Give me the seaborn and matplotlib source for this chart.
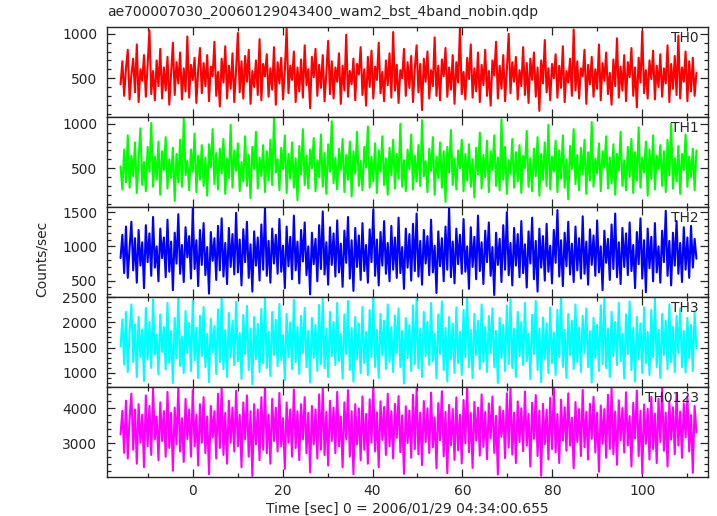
import numpy as np
import matplotlib
matplotlib.use("Agg")
import matplotlib.pyplot as plt
import pandas as pd
import seaborn as sns
from matplotlib.ticker import MultipleLocator

# light curve values (counts/sec), one panel per band
th0 = [430, 690, 300, 610, 820, 260, 540, 720, 340, 880, 230, 600, 470, 760, 290, 650, 1040, 320, 580, 250,
       700, 410, 830, 270, 620, 360, 740, 200, 560, 900, 310, 680, 440, 790, 260, 610, 350, 970, 280, 650,
       480, 730, 220, 590, 840, 330, 670, 410, 760, 240, 630, 520, 910, 300, 570, 180, 720, 450, 860, 270,
       640, 380, 780, 230, 600, 1010, 340, 690, 270, 750, 460, 820, 210, 580, 400, 700, 310, 940, 250, 660,
       520, 770, 290, 610, 370, 850, 200, 680, 440, 730, 260, 590, 1060, 330, 640, 480, 800, 230, 620, 350,
       710, 280, 870, 420, 600, 160, 740, 510, 830, 300, 650, 390, 760, 240, 560, 920, 320, 690, 270, 620,
       460, 780, 210, 640, 360, 990, 290, 580, 430, 720, 250, 660, 540, 850, 310, 600, 190, 740, 400, 810,
       270, 630, 480, 900, 330, 570, 240, 700, 420, 780, 280, 1020, 360, 650, 220, 590, 500, 830, 300, 680,
       390, 750, 230, 610, 870, 340, 660, 140, 720, 460, 800, 270, 590, 410, 960, 300, 640, 250, 710, 520,
       840, 290, 620, 370, 760, 210, 680, 450, 1070, 320, 570, 260, 730, 490, 880, 280, 610, 350, 790, 230,
       650, 420, 820, 300, 580, 190, 700, 530, 910, 270, 640, 380, 760, 240, 600, 1000, 330, 680, 460, 740,
       260, 590, 410, 850, 310, 670, 220, 720, 480, 790, 290, 620, 130, 700, 440, 930, 340, 610, 250, 660,
       500, 770, 280, 640, 390, 860, 230, 580, 450, 720, 300, 1050, 360, 690, 270, 610, 520, 820, 210, 650,
       430, 740, 290, 600, 380, 880, 250, 670, 470, 790, 320, 560, 200, 710, 410, 950, 280, 630, 360, 760,
       240, 680, 510, 840, 300, 620, 170, 730, 450, 1030, 330, 590, 270, 700, 490, 810, 260, 640, 400, 770,
       290, 610, 440, 870, 230, 660, 380, 750, 310, 980, 270, 620, 460, 800, 240, 690, 350, 730, 300, 560]
th1 = [520, 260, 710, 340, 870, 280, 640, 410, 790, 220, 600, 950, 310, 570, 240, 740, 460, 1010, 290, 630,
       370, 800, 200, 690, 480, 850, 270, 600, 390, 730, 130, 660, 340, 820, 290, 1060, 420, 580, 250, 710,
       460, 890, 230, 640, 370, 760, 300, 620, 190, 770, 510, 940, 320, 670, 260, 720, 440, 830, 210, 610,
       390, 990, 280, 700, 470, 780, 240, 570, 350, 860, 300, 650, 160, 740, 490, 910, 270, 620, 410, 760,
       230, 690, 360, 820, 310, 1070, 450, 600, 250, 730, 490, 870, 220, 660, 380, 790, 280, 610, 140, 750,
       430, 940, 310, 640, 270, 710, 500, 840, 240, 590, 400, 880, 290, 670, 210, 770, 460, 1030, 330, 620,
       260, 720, 480, 830, 230, 650, 370, 800, 180, 690, 440, 910, 300, 580, 250, 740, 510, 970, 280, 630,
       350, 780, 220, 700, 460, 860, 310, 610, 200, 730, 420, 820, 270, 660, 380, 1000, 290, 590, 240, 710,
       490, 880, 260, 640, 350, 760, 300, 1040, 410, 580, 230, 720, 470, 850, 200, 630, 390, 790, 280, 690,
       120, 740, 450, 930, 310, 610, 260, 700, 500, 820, 240, 660, 360, 770, 290, 600, 170, 730, 430, 900,
       270, 650, 400, 810, 230, 690, 480, 870, 300, 620, 250, 1050, 370, 740, 210, 590, 440, 830, 280, 680,
       350, 760, 220, 640, 500, 920, 290, 610, 240, 720, 410, 850, 190, 660, 370, 790, 300, 990, 260, 630,
       460, 810, 230, 700, 380, 870, 280, 600, 150, 750, 490, 940, 320, 650, 250, 730, 430, 820, 210, 680,
       360, 1020, 290, 610, 440, 780, 240, 690, 510, 860, 270, 620, 330, 770, 200, 660, 470, 910, 300, 590,
       250, 740, 400, 830, 220, 680, 360, 960, 280, 620, 450, 800, 190, 710, 380, 870, 260, 640, 490, 760,
       300, 690, 230, 820, 420, 1000, 270, 610, 350, 750, 210, 660, 480, 880, 290, 630, 400, 720, 250, 700]
th2 = [830, 1170, 610, 1290, 540, 980, 1360, 650, 1120, 470, 1240, 720, 1060, 390, 1310, 770, 1190, 570, 1430, 690,
       1000, 490, 1260, 830, 1130, 550, 1390, 630, 1070, 360, 1200, 750, 1470, 600, 1020, 480, 1280, 840, 1150, 530,
       1550, 670, 1090, 420, 1240, 730, 1340, 580, 990, 310, 1210, 790, 1120, 510, 1300, 650, 1410, 560, 1050, 450,
       1270, 700, 1180, 590, 1490, 620, 1100, 430, 1250, 770, 1360, 540, 1030, 340, 1220, 720, 1130, 500, 1320, 660,
       1560, 570, 1080, 470, 1260, 750, 1170, 600, 1400, 630, 1010, 390, 1290, 710, 1140, 520, 1450, 650, 1070, 460,
       1240, 780, 1350, 580, 1000, 300, 1200, 740, 1110, 490, 1310, 670, 1510, 590, 1060, 440, 1280, 730, 1190, 560,
       1380, 620, 1040, 410, 1230, 760, 1430, 530, 1090, 350, 1270, 700, 1160, 510, 1340, 640, 1020, 470, 1250, 770,
       1540, 570, 1100, 430, 1210, 720, 1370, 600, 1050, 490, 1300, 660, 1130, 540, 1420, 610, 990, 380, 1260, 690,
       1180, 500, 1330, 640, 1480, 560, 1080, 440, 1240, 750, 1150, 580, 1390, 620, 1010, 320, 1220, 710, 1120, 490,
       1290, 660, 1570, 550, 1070, 460, 1260, 740, 1170, 600, 1400, 630, 1000, 380, 1280, 700, 1140, 520, 1450, 640,
       1060, 450, 1230, 770, 1350, 570, 990, 290, 1200, 730, 1110, 480, 1310, 660, 1500, 580, 1050, 430, 1270, 720,
       1180, 550, 1370, 610, 1030, 400, 1220, 750, 1420, 520, 1080, 340, 1260, 690, 1150, 500, 1330, 630, 1010, 460,
       1240, 760, 1530, 560, 1090, 420, 1200, 710, 1360, 590, 1040, 480, 1290, 650, 1120, 530, 1440, 600, 1070, 440,
       1250, 730, 1160, 570, 1380, 620, 1000, 360, 1230, 760, 1110, 510, 1320, 670, 1480, 550, 1060, 450, 1270, 700,
       1190, 580, 1350, 640, 1020, 390, 1210, 740, 1410, 530, 1090, 330, 1260, 680, 1140, 490, 1340, 620, 1000, 470,
       1230, 770, 1520, 570, 1080, 430, 1200, 720, 1370, 600, 1050, 480, 1280, 660, 1130, 540, 1300, 690, 1110, 820]
th3 = [1520, 2060, 1160, 2210, 1010, 1810, 2360, 1210, 1960, 910, 2110, 1310, 1860, 830, 2290, 1260, 2010, 1090, 2460, 1360,
       1760, 960, 2160, 1410, 1910, 1060, 2390, 1190, 1830, 790, 2090, 1290, 2500, 1130, 1710, 990, 2230, 1390, 1990, 1030,
       2430, 1250, 1890, 890, 2130, 1330, 2310, 1110, 1770, 810, 2070, 1410, 1930, 970, 2260, 1210, 2490, 1070, 1850, 910,
       2190, 1310, 2030, 1150, 2410, 1230, 1790, 870, 2150, 1370, 2330, 1050, 1870, 770, 2110, 1270, 1970, 1010, 2270, 1190,
       2500, 1090, 1810, 930, 2210, 1350, 2050, 1130, 2370, 1250, 1750, 850, 2170, 1310, 2000, 1070, 2450, 1210, 1910, 970,
       2130, 1390, 2290, 1110, 1830, 800, 2090, 1290, 1950, 1030, 2350, 1170, 2480, 1090, 1870, 910, 2210, 1330, 2010, 1150,
       2390, 1230, 1770, 880, 2160, 1370, 2430, 1050, 1890, 820, 2110, 1270, 1980, 990, 2310, 1190, 1810, 950, 2250, 1310,
       2490, 1110, 1850, 890, 2170, 1350, 2030, 1070, 2360, 1210, 1910, 1010, 2140, 1390, 2280, 1110, 1830, 780, 2090, 1290,
       1950, 1030, 2340, 1170, 2470, 1090, 1870, 910, 2210, 1330, 2010, 1150, 2390, 1230, 1770, 880, 2160, 1370, 2420, 1050,
       1890, 820, 2110, 1270, 1980, 990, 2300, 1190, 1810, 950, 2250, 1310, 2490, 1110, 1850, 890, 2170, 1350, 2030, 1070,
       2360, 1210, 1910, 1010, 2130, 1390, 2280, 1110, 1830, 790, 2090, 1290, 1950, 1030, 2340, 1170, 2460, 1090, 1870, 910,
       2210, 1330, 2010, 1150, 2390, 1230, 1770, 870, 2150, 1370, 2430, 1050, 1880, 810, 2100, 1270, 1980, 990, 2300, 1190,
       1800, 950, 2250, 1310, 2500, 1110, 1850, 890, 2170, 1350, 2030, 1070, 2360, 1210, 1900, 1010, 2130, 1390, 2280, 1110,
       1830, 800, 2090, 1290, 1950, 1030, 2340, 1170, 2470, 1090, 1870, 910, 2210, 1330, 2010, 1150, 2390, 1230, 1770, 880,
       2160, 1370, 2420, 1050, 1890, 820, 2110, 1270, 1980, 990, 2300, 1190, 1810, 950, 2250, 1310, 2480, 1110, 1850, 890,
       2170, 1350, 2030, 1070, 2360, 1210, 1910, 1010, 2130, 1390, 2280, 1110, 1830, 1000, 2090, 1290, 1950, 1030, 2200, 1480]
th0123 = [3250, 3920, 2720, 4210, 2560, 3710, 4410, 2810, 3960, 2410, 4110, 3010, 3810, 2310, 4360, 2910, 4060, 2660, 4560, 3110,
          3760, 2510, 4160, 3060, 3910, 2610, 4460, 2860, 3860, 2210, 4010, 2960, 4600, 2760, 3710, 2460, 4260, 3110, 3960, 2610,
          4510, 2910, 3810, 2360, 4110, 3010, 4310, 2710, 3760, 2110, 4060, 3160, 3910, 2560, 4410, 2860, 4580, 2660, 3860, 2410,
          4210, 3010, 4010, 2760, 4490, 2910, 3810, 2310, 4160, 3110, 4360, 2610, 3910, 2060, 4110, 2960, 3960, 2510, 4310, 2810,
          4600, 2710, 3810, 2410, 4260, 3060, 4010, 2760, 4430, 2910, 3710, 2260, 4160, 3010, 3960, 2610, 4530, 2860, 3910, 2510,
          4110, 3110, 4310, 2710, 3860, 2160, 4060, 2960, 3960, 2560, 4390, 2810, 4570, 2660, 3890, 2360, 4210, 3060, 4010, 2710,
          4460, 2910, 3760, 2310, 4160, 3110, 4510, 2610, 3910, 2110, 4110, 2960, 3990, 2510, 4330, 2810, 3830, 2410, 4250, 3010,
          4590, 2760, 3880, 2310, 4190, 3090, 4030, 2660, 4410, 2910, 3910, 2560, 4120, 3150, 4340, 2740, 3790, 2120, 4050, 3000,
          3930, 2580, 4380, 2830, 4550, 2680, 3870, 2370, 4200, 3030, 3990, 2720, 4440, 2880, 3730, 2280, 4140, 3080, 4480, 2620,
          3890, 2140, 4090, 2940, 3970, 2520, 4300, 2790, 3810, 2420, 4230, 2990, 4590, 2740, 3860, 2290, 4170, 3070, 4010, 2640,
          4390, 2890, 3890, 2540, 4130, 3130, 4330, 2720, 3780, 2100, 4040, 3180, 3920, 2570, 4420, 2870, 4570, 2670, 3870, 2430,
          4190, 3030, 3990, 2770, 4470, 2930, 3830, 2330, 4150, 3120, 4370, 2630, 3930, 2070, 4120, 2970, 3950, 2530, 4290, 2830,
          4580, 2730, 3830, 2430, 4240, 3070, 4020, 2780, 4420, 2930, 3720, 2280, 4170, 3030, 3970, 2630, 4520, 2880, 3890, 2530,
          4120, 3120, 4320, 2730, 3870, 2180, 4070, 2980, 3970, 2580, 4380, 2830, 4560, 2680, 3900, 2380, 4220, 3080, 4000, 2730,
          4450, 2930, 3770, 2330, 4150, 3130, 4500, 2630, 3920, 2130, 4100, 2980, 3980, 2530, 4320, 2830, 3840, 2430, 4260, 3030,
          4590, 2780, 3870, 2330, 4180, 3100, 4020, 2680, 4400, 2930, 3900, 2580, 4130, 3160, 4330, 2760, 3800, 2150, 4060, 3300]

bands = ["TH0", "TH1", "TH2", "TH3", "TH0123"]
series = [th0, th1, th2, th3, th0123]
colors = ["#ff0000", "#00ff00", "#0000ff", "#00ffff", "#ff00ff"]
ylims = [(63, 1079), (63, 1079), (262, 1577), (712, 2510), (2031, 4602)]
ymajor = [500, 500, 500, 500, 1000]
yminor = [100, 100, 100, 100, 200]

t_start, t_end = -16.0, 112.0
title = "ae700007030_20060129043400_wam2_bst_4band_nobin.qdp"
xlabel = "Time [sec] 0 = 2006/01/29 04:34:00.655"

sns.set_style("ticks")
plt.rcParams["font.family"] = ["DejaVu Sans"]

fig, axes = plt.subplots(5, 1, figsize=(7.17, 5.16), dpi=100, sharex=True)
fig.subplots_adjust(left=0.149, right=0.987, top=0.948, bottom=0.0756, hspace=0)

for ax, name, vals, col, yl, ma, mi in zip(axes, bands, series, colors, ylims, ymajor, yminor):
    # time bins spread evenly over the observation window
    df = pd.DataFrame({"time": np.linspace(t_start, t_end, len(vals)), "rate": vals})
    sns.lineplot(data=df, x="time", y="rate", ax=ax, color=col, linewidth=1.5,
                 estimator=None, sort=False)
    ax.set_ylim(*yl)
    ax.set_xlim(-19.05, 114.5)
    ax.yaxis.set_major_locator(MultipleLocator(ma))
    ax.yaxis.set_minor_locator(MultipleLocator(mi))
    ax.xaxis.set_major_locator(MultipleLocator(20))
    ax.xaxis.set_minor_locator(MultipleLocator(10))
    ax.tick_params(which="both", direction="in", top=True, right=True, labelsize=10, width=0.9)
    ax.tick_params(which="major", length=6)
    ax.tick_params(which="minor", length=3)
    ax.tick_params(axis="y", pad=7)
    ax.tick_params(axis="x", pad=5)
    for sp in ax.spines.values():
        sp.set_linewidth(1.0)
    ax.set_xlabel("")
    ax.set_ylabel("")
    ax.text(0.985, 0.875, name, transform=ax.transAxes, ha="right", va="center", fontsize=10)

axes[-1].set_xlabel(xlabel, fontsize=10, labelpad=3)
fig.text(0.058, 0.498, "Counts/sec", rotation=90, ha="center", va="center", fontsize=10)
fig.text(0.149, 1 - 12 / 516, title, ha="left", va="center", fontsize=10)

fig.savefig("out.png", dpi=100)
